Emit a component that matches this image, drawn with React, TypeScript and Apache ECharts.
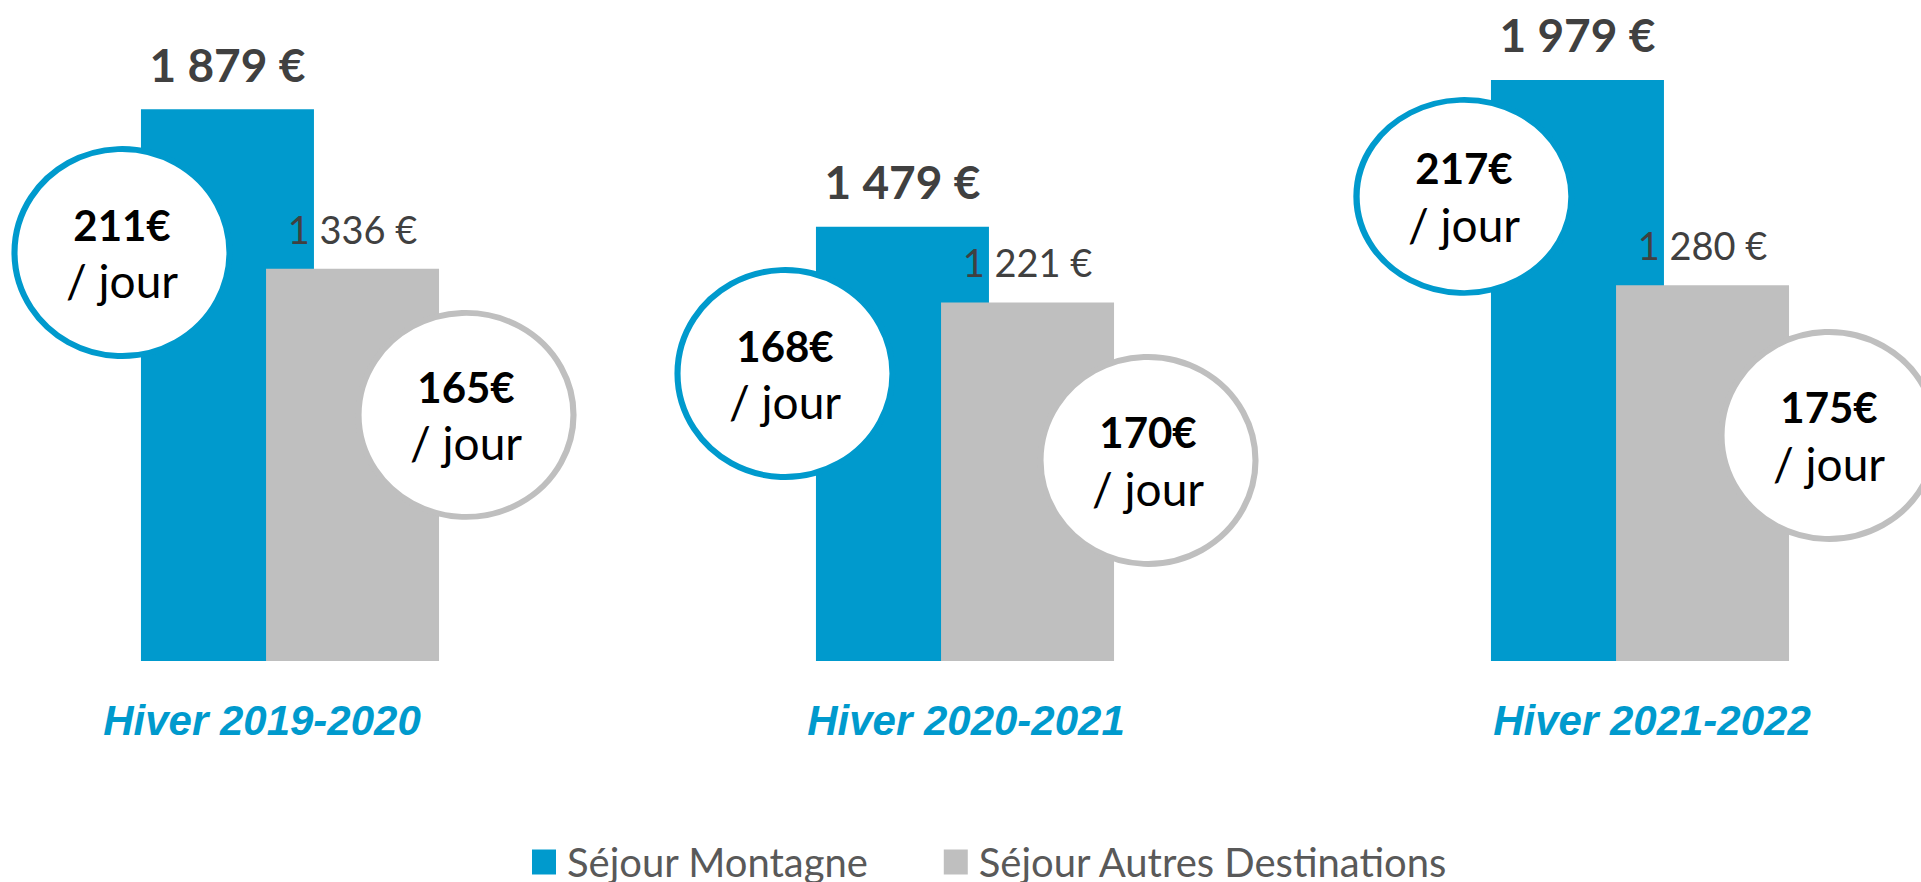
import React, { useEffect, useRef } from 'react';
import * as echarts from 'echarts';

// ---- data ----
const categories = ['Hiver 2019-2020', 'Hiver 2020-2021', 'Hiver 2021-2022'];
const seriesNames = ['Séjour Montagne', 'Séjour Autres Destinations'];
const montagne = [1879, 1479, 1979];
const autres = [1336, 1221, 1280];
const parJourMontagne = [211, 168, 217];
const parJourAutres = [165, 170, 175];

// ---- layout of the "per day" bubbles (annotation placement) ----
const bubbleMontagneLevel = [1391, 979, 1582];
const bubbleAutresLevel = [838, 683, 768];
const bubbleMontagneDx = [-168, -180, -176];
const bubbleAutresDx = [176, 183, 189];
const bubbleMontagneSize = [[215, 207], [215, 207], [215, 193]];
const bubbleAutresSize = [[215, 204], [215, 207], [215, 207]];

const BLUE = '#009ACD';
const GRAY = '#BFBFBF';

const fmt = (v: number) => String(v).replace(/\B(?=(\d{3})+(?!\d))/g, ' ') + ' €';

export default function App() {
  const ref = useRef<HTMLDivElement>(null);
  useEffect(() => {
    const chart = echarts.init(ref.current!, null, { renderer: 'svg' });
    const rich = {
      a: { fontFamily: 'Lato', fontWeight: 'bold', fontSize: 42, color: '#000', lineHeight: 56, align: 'center' },
      b: { fontFamily: 'Lato', fontWeight: 'normal', fontSize: 46, color: '#000', lineHeight: 56, align: 'center' },
    };
    const bubbles = (levels: number[], dx: number[], sizes: number[][]) =>
      levels.map((lv, i) => ({ value: [i, lv], symbolOffset: [dx[i], 0], symbolSize: sizes[i] }));
    const catFont = {
      fontFamily: 'Liberation Sans',
      fontWeight: 'bold',
      fontStyle: 'italic',
      fontSize: 42,
      color: BLUE,
    };
    chart.setOption({
      animation: false,
      backgroundColor: '#fff',
      grid: {
        left: -47.5,
        width: 2025,
        top: 15,
        bottom: 221,
        containLabel: false,
        outerBoundsMode: 'none',
      },
      legend: {
        data: seriesNames,
        left: 527,
        top: 837,
        icon: 'rect',
        itemWidth: 24,
        itemHeight: 25,
        itemGap: 75,
        selectedMode: false,
        textStyle: {
          fontFamily: 'Lato',
          fontSize: 40,
          lineHeight: 26,
          color: '#595959',
          padding: [0, 0, 0, 6],
        },
      },
      xAxis: {
        type: 'category',
        data: categories,
        axisLine: { show: false },
        axisTick: { show: false },
        axisLabel: {
          interval: 0,
          margin: 38,
          ...catFont,
          formatter: (v: string, i: number) => `{c${i}|${v}}`,
          rich: {
            c0: { ...catFont, padding: [0, 56, 0, 0] },
            c1: { ...catFont, padding: [0, 0, 0, 2] },
            c2: { ...catFont, padding: [0, 0, 0, 24] },
          },
        },
      },
      yAxis: { type: 'value', min: 0, max: 2200, show: false, splitLine: { show: false } },
      series: [
        {
          type: 'bar',
          name: seriesNames[0],
          data: montagne,
          barWidth: 173,
          barGap: '-27.7%',
          itemStyle: { color: BLUE },
          label: {
            show: true,
            position: 'top',
            distance: 22,
            formatter: (p: any) => fmt(p.value),
            fontFamily: 'Lato',
            fontWeight: 'bold',
            fontSize: 46,
            color: '#404040',
          },
          z: 2,
        },
        {
          type: 'bar',
          name: seriesNames[1],
          data: autres,
          barWidth: 173,
          barGap: '-27.7%',
          itemStyle: { color: GRAY },
          label: {
            show: true,
            position: 'top',
            distance: 21,
            formatter: (p: any) => fmt(p.value),
            fontFamily: 'Lato',
            fontWeight: 'normal',
            fontSize: 38,
            color: '#404040',
          },
          z: 3,
        },
        {
          type: 'scatter',
          name: 'jourMontagne',
          data: bubbles(bubbleMontagneLevel, bubbleMontagneDx, bubbleMontagneSize),
          symbol: 'circle',
          itemStyle: { color: '#fff', borderColor: BLUE, borderWidth: 6, opacity: 1 },
          label: {
            show: true,
            position: 'inside',
            formatter: (p: any) => `{a|${parJourMontagne[p.dataIndex]}€}\n{b|/ jour}`,
            rich,
          },
          silent: true,
          z: 5,
        },
        {
          type: 'scatter',
          name: 'jourAutres',
          data: bubbles(bubbleAutresLevel, bubbleAutresDx, bubbleAutresSize),
          symbol: 'circle',
          itemStyle: { color: '#fff', borderColor: GRAY, borderWidth: 6, opacity: 1 },
          label: {
            show: true,
            position: 'inside',
            formatter: (p: any) => `{a|${parJourAutres[p.dataIndex]}€}\n{b|/ jour}`,
            rich,
          },
          silent: true,
          z: 5,
        },
      ],
    });
    return () => chart.dispose();
  }, []);
  return (
    <div
      ref={ref}
      style={{ position: 'absolute', left: 0, top: 0, width: 1921, height: 882 }}
    />
  );
}
